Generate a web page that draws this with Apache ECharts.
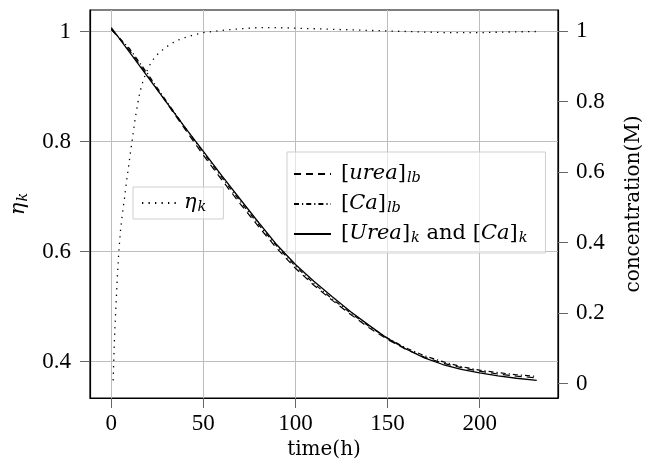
<!DOCTYPE html>
<html><head><meta charset="utf-8">
<script src="https://cdn.jsdelivr.net/npm/echarts@6/dist/echarts.min.js"></script>
<style>html,body{margin:0;padding:0;background:#fff}#c{width:648px;height:476px}</style>
</head><body><div id="c"></div>
<script>
// ---- data ----
const etaTime = [1, 1.5, 2, 2.7, 3.4, 4.1, 5, 6, 7, 8, 9, 10, 11, 12, 13, 14, 15, 16, 17, 18, 20, 22, 25, 28, 32, 36, 40, 45, 50, 60, 70, 80, 90, 100, 120, 140, 160, 180, 200, 215, 231];
const etaValues = [0.366, 0.42, 0.462, 0.512, 0.56, 0.6, 0.638, 0.668, 0.692, 0.72, 0.745, 0.77, 0.794, 0.818, 0.842, 0.862, 0.881, 0.895, 0.907, 0.917, 0.933, 0.946, 0.958, 0.967, 0.977, 0.984, 0.989, 0.994, 0.998, 1.002, 1.005, 1.007, 1.007, 1.006, 1.004, 1.002, 1.0, 0.998, 0.998, 0.999, 1.0];
const concTime = [0, 10, 20, 30, 40, 50, 60, 70, 80, 90, 100, 110, 120, 130, 140, 150, 160, 170, 180, 190, 200, 210, 220, 231];
const ureaLb = [1.005, 0.945, 0.872, 0.797, 0.722, 0.648, 0.578, 0.51, 0.445, 0.383, 0.327, 0.279, 0.236, 0.196, 0.158, 0.125, 0.097, 0.075, 0.058, 0.045, 0.035, 0.027, 0.021, 0.016];
const caLb = [1.005, 0.95, 0.877, 0.801, 0.727, 0.655, 0.585, 0.517, 0.451, 0.389, 0.333, 0.284, 0.24, 0.2, 0.162, 0.129, 0.101, 0.079, 0.062, 0.048, 0.038, 0.031, 0.025, 0.02];
const ureaCaK = [1.01, 0.94, 0.869, 0.798, 0.727, 0.659, 0.59, 0.523, 0.457, 0.393, 0.338, 0.29, 0.246, 0.204, 0.165, 0.128, 0.098, 0.073, 0.054, 0.04, 0.03, 0.022, 0.015, 0.009];
const xTicks = [0, 50, 100, 150, 200];
const etaTicks = [0.4, 0.6, 0.8, 1];
const concTicks = [0, 0.2, 0.4, 0.6, 0.8, 1];

// ---- helpers ----
function enlarged(arrs) {
  const all = [].concat(...arrs);
  const lo = Math.min(...all), hi = Math.max(...all), pad = (hi - lo) * 0.05;
  return [lo - pad, hi + pad];
}
const zip = (xs, ys) => xs.map((x, i) => [x, ys[i]]);
const xR = enlarged([etaTime, concTime]);
const etaR = enlarged([etaValues]);
const concR = enlarged([ureaLb, caLb, ureaCaK]);

const NUMFONT = 'Liberation Serif';
const FONT = 'DejaVu Serif';
const rich = {
  n: { fontFamily: FONT, fontSize: 21, color: '#000', lineHeight: 24 },
  i: { fontFamily: FONT, fontSize: 21, fontStyle: 'italic', color: '#000', lineHeight: 24 },
  s: { fontFamily: FONT, fontSize: 14.5, fontStyle: 'italic', color: '#000', lineHeight: 24, padding: [9, 0, 0, 1] },
  sp: { width: 5 }
};
const labelMap = {
  eta: '{i|η}{s|k}',
  ureaLb: '{sp| }{n|[}{i|urea}{n|]}{s|lb}',
  caLb: '{sp| }{n|[}{i|Ca}{n|]}{s|lb}',
  k: '{sp| }{n|[}{i|Urea}{n|]}{s|k}{n| and [}{i|Ca}{n|]}{s|k}'
};

const tickStyle = { show: true, length: 10, lineStyle: { color: '#666', width: 1 } };
const lblStyle = { fontFamily: NUMFONT, fontSize: 23, color: '#000' };
const frame = { show: true, onZero: false, lineStyle: { color: '#000', width: 1.2 } };

const chart = echarts.init(document.getElementById('c'), null, { renderer: 'canvas' });
chart.setOption({
  animation: false,
  backgroundColor: '#fff',
  grid: { left: 90, right: 90, top: 10, bottom: 78, show: true, borderColor: '#000', borderWidth: 1.2, outerBoundsMode: 'none' },
  xAxis: [{
    type: 'value', min: xR[0], max: xR[1],
    axisLine: frame,
    axisTick: Object.assign({ customValues: xTicks }, tickStyle),
    axisLabel: Object.assign({ customValues: xTicks, margin: 14 }, lblStyle),
    splitLine: { show: true, customValues: xTicks, lineStyle: { color: '#bdbdbd', width: 1 } },
    name: 'time(h)', nameLocation: 'middle', nameGap: 35,
    nameTextStyle: { fontFamily: FONT, fontSize: 20, color: '#000' }
  }],
  yAxis: [{
    type: 'value', position: 'left', min: etaR[0], max: etaR[1],
    axisLine: frame,
    axisTick: Object.assign({ customValues: etaTicks }, tickStyle),
    axisLabel: Object.assign({ customValues: etaTicks, margin: 19 }, lblStyle),
    splitLine: { show: true, customValues: etaTicks, lineStyle: { color: '#bdbdbd', width: 1 } },
    name: '{i|η}{s|k}', nameLocation: 'middle', nameRotate: 90, nameGap: 59,
    nameTextStyle: { rich: rich }
  }, {
    type: 'value', position: 'right', min: concR[0], max: concR[1],
    axisLine: frame,
    axisTick: Object.assign({ customValues: concTicks }, tickStyle),
    axisLabel: Object.assign({ customValues: concTicks, margin: 18 }, lblStyle),
    splitLine: { show: false },
    name: 'concentration(M)', nameLocation: 'middle', nameRotate: 90, nameGap: 66,
    nameTextStyle: { fontFamily: FONT, fontSize: 20, color: '#000' }
  }],
  legend: [{
    data: ['eta'], left: 133, top: 187, orient: 'vertical',
    itemWidth: 37, itemHeight: 14, padding: [4, 17, 4, 8],
    itemStyle: { opacity: 0 },
    backgroundColor: 'rgba(255,255,255,0.6)', borderColor: '#cfcfcf', borderWidth: 1, borderRadius: 0,
    formatter: n => labelMap[n], textStyle: { rich: rich }, selectedMode: false
  }, {
    data: ['ureaLb', 'caLb', 'k'], left: 287, top: 152, orient: 'vertical',
    itemWidth: 37, itemHeight: 14, itemGap: 6, padding: [10, 18, 7, 6],
    itemStyle: { opacity: 0 },
    backgroundColor: 'rgba(255,255,255,0.6)', borderColor: '#cfcfcf', borderWidth: 1, borderRadius: 0,
    formatter: n => labelMap[n], textStyle: { rich: rich }, selectedMode: false
  }],
  series: [{
    name: 'eta', type: 'line', yAxisIndex: 0, data: zip(etaTime, etaValues),
    symbol: 'none', itemStyle: { color: '#000' }, lineStyle: { color: '#000', width: 1.3, type: [1.3, 5.2] }, z: 3
  }, {
    name: 'ureaLb', type: 'line', yAxisIndex: 1, data: zip(concTime, ureaLb),
    symbol: 'none', itemStyle: { color: '#000' }, lineStyle: { color: '#000', width: 1.2, type: [7, 5] }, z: 3
  }, {
    name: 'caLb', type: 'line', yAxisIndex: 1, data: zip(concTime, caLb),
    symbol: 'none', itemStyle: { color: '#000' }, lineStyle: { color: '#000', width: 1.2, type: [5, 3, 1.2, 3] }, z: 3
  }, {
    name: 'k', type: 'line', yAxisIndex: 1, data: zip(concTime, ureaCaK),
    symbol: 'none', itemStyle: { color: '#000' }, lineStyle: { color: '#000', width: 1.3 }, z: 3
  }]
});
</script></body></html>
